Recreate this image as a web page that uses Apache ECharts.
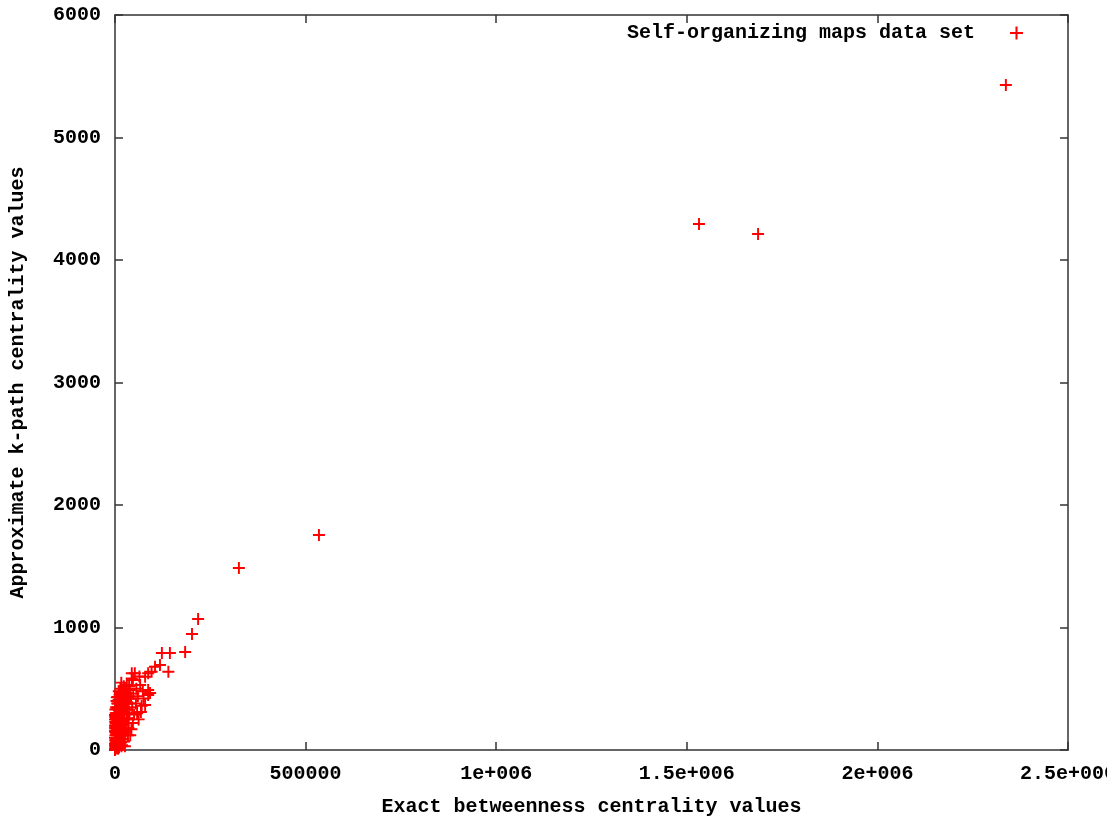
<!DOCTYPE html>
<html>
<head>
<meta charset="utf-8">
<script src="https://cdn.jsdelivr.net/npm/echarts@6/dist/echarts.min.js"></script>
<style>
html,body{margin:0;padding:0;background:#fff;}
#chart{width:1107px;height:821px;}
</style>
</head>
<body>
<div id="chart"></div>
<script>
// Data
const seriesName = 'Self-organizing maps data set';
const xTitle = 'Exact betweenness centrality values';
const yTitle = 'Approximate k-path centrality values';
const xTickValues = [0, 500000, 1000000, 1500000, 2000000, 2500000];
const xTickLabels = ['0', '500000', '1e+006', '1.5e+006', '2e+006', '2.5e+006'];
const yTickLabels = ['0', '1000', '2000', '3000', '4000', '5000', '6000'];

const exactValues = [
  0, 500, 1000, 200, 1500, 800, 2500, 3000, 0, 1200, 2000, 600, 3500, 4000, 0, 1800, 2600, 900, 3200, 4500, 5000, 300, 4200, 1600, 0, 0, 700, 1400,
  6000, 7000, 8000, 9000, 10000, 11000, 12000, 13000, 6500, 7500, 9500, 14000, 15000, 12500, 10500, 8500, 11500, 13500, 6000, 7200, 14500, 9800, 8000,
  16000, 17000, 18000, 19000, 20000, 22000, 24000, 26000, 25000, 21000, 28000, 27000, 23000, 30000, 18500, 29000, 16500, 20500, 24500, 26500, 26000,
  31000, 33000, 35000, 36000, 38000, 39000, 40000, 42000, 44000, 45000, 47000, 48000, 50000, 34000, 37000, 43000, 47000, 44000,
  52000, 55000, 58000, 60000, 62000, 66000, 70000, 75000, 79000, 73000, 64000, 68000, 56000,
  87000, 87000, 92000, 79000, 87000, 96000, 105000, 118000, 140000,
  123000, 144000, 184000, 202000, 218000, 325000, 535000, 1532000, 1687000, 2337000,
  2000, 3000, 4000, 1000, 5000, 6000, 3000, 5500, 7000, 8000, 9000, 10000, 11000, 12000, 13000, 14000, 15000, 16000, 17000, 18000,
  19000, 20000, 21000, 22000, 23000, 24000, 25000, 12000, 14000, 10000, 8000, 5000, 7000, 3000, 2000, 4000, 6000, 9000, 11000, 13000,
  17000, 19000, 22000, 27000, 28000, 30000, 32000, 34000, 36000, 38000, 15000, 17000, 0, 0, 500, 1500, 2500, 3500, 4500, 6500
];
const approxValues = [
  0, 10, 25, 40, 60, 80, 15, 45, 100, 120, 140, 160, 90, 180, 200, 220, 250, 270, 300, 130, 60, 5, 20, 35, 286, 150, 230, 190,
  40, 100, 160, 210, 260, 320, 380, 465, 300, 350, 410, 230, 120, 60, 20, 280, 180, 330, 240, 200, 400, 90, 433,
  200, 290, 350, 420, 480, 260, 310, 30, 150, 90, 400, 220, 520, 470, 40, 330, 550, 160, 380, 450, 490,
  531, 250, 180, 380, 300, 490, 120, 420, 585, 350, 220, 460, 290, 430, 520, 170, 571, 626,
  626, 380, 300, 440, 250, 531, 360, 420, 367, 480, 600, 310, 500,
  490, 449, 465, 598, 626, 639, 680, 694, 639,
  792, 792, 800, 947, 1069, 1486, 1755, 4294, 4212, 5429,
  300, 350, 400, 330, 260, 380, 220, 170, 50, 10, 330, 400, 100, 250, 150, 300, 350, 60, 130, 250,
  180, 300, 380, 140, 200, 70, 430, 450, 500, 480, 380, 430, 270, 150, 80, 70, 120, 60, 230, 410,
  470, 350, 420, 500, 150, 250, 330, 120, 260, 420, 260, 30, 50, 250, 180, 280, 200, 260, 340, 30
];

const points = exactValues.map((x, i) => [x, approxValues[i]]);

const crossPath = 'path://M0,4.2H10V5.8H0Z M4.2,0H5.8V10H4.2Z';
const fontFam = '"Liberation Mono", "DejaVu Sans Mono", monospace';
const axisColor = '#333';

const chart = echarts.init(document.getElementById('chart'), null, {renderer: 'canvas'});
const labelStyle = {color: '#000', fontFamily: fontFam, fontWeight: 'bold', fontSize: 20};
const tickStyle = {show: true, inside: true, length: 8, lineStyle: {color: axisColor, width: 1.5}};
const lineStyle = {show: true, onZero: false, lineStyle: {color: axisColor, width: 1.5}};

chart.setOption({
  animation: false,
  backgroundColor: '#fff',
  grid: {left: 115, top: 15, right: 39, bottom: 71, containLabel: false, outerBoundsMode: 'none'},
  legend: {
    show: true,
    right: 79,
    top: 18,
    align: 'right',
    itemWidth: 13,
    itemHeight: 13,
    itemGap: 10,
    textStyle: Object.assign({}, labelStyle, {padding: [0, 30, 0, 0]}),
    data: [{name: seriesName, icon: crossPath}]
  },
  xAxis: [{
    type: 'value',
    min: 0, max: 2500000, interval: 500000,
    name: xTitle,
    nameLocation: 'middle',
    nameGap: 47,
    nameTextStyle: labelStyle,
    axisLine: lineStyle,
    axisTick: tickStyle,
    axisLabel: Object.assign({}, labelStyle, {
      margin: 14,
      formatter: v => { const i = xTickValues.indexOf(v); return i >= 0 ? xTickLabels[i] : ''; }
    }),
    splitLine: {show: false}
  }, {
    type: 'value', position: 'top',
    min: 0, max: 2500000, interval: 500000,
    axisLine: lineStyle,
    axisTick: tickStyle,
    axisLabel: {show: false},
    splitLine: {show: false}
  }],
  yAxis: [{
    type: 'value',
    min: 0, max: 6000, interval: 1000,
    name: yTitle,
    nameLocation: 'middle',
    nameGap: 87,
    nameRotate: 90,
    nameTextStyle: labelStyle,
    axisLine: lineStyle,
    axisTick: tickStyle,
    axisLabel: Object.assign({}, labelStyle, {
      margin: 14,
      formatter: v => yTickLabels[Math.round(v / 1000)]
    }),
    splitLine: {show: false}
  }, {
    type: 'value', position: 'right',
    min: 0, max: 6000, interval: 1000,
    axisLine: lineStyle,
    axisTick: tickStyle,
    axisLabel: {show: false},
    splitLine: {show: false}
  }],
  series: [{
    name: seriesName,
    type: 'scatter',
    clip: false,
    symbol: crossPath,
    symbolSize: 12,
    itemStyle: {color: '#ff0000', opacity: 1},
    data: points
  }]
});
</script>
</body>
</html>
